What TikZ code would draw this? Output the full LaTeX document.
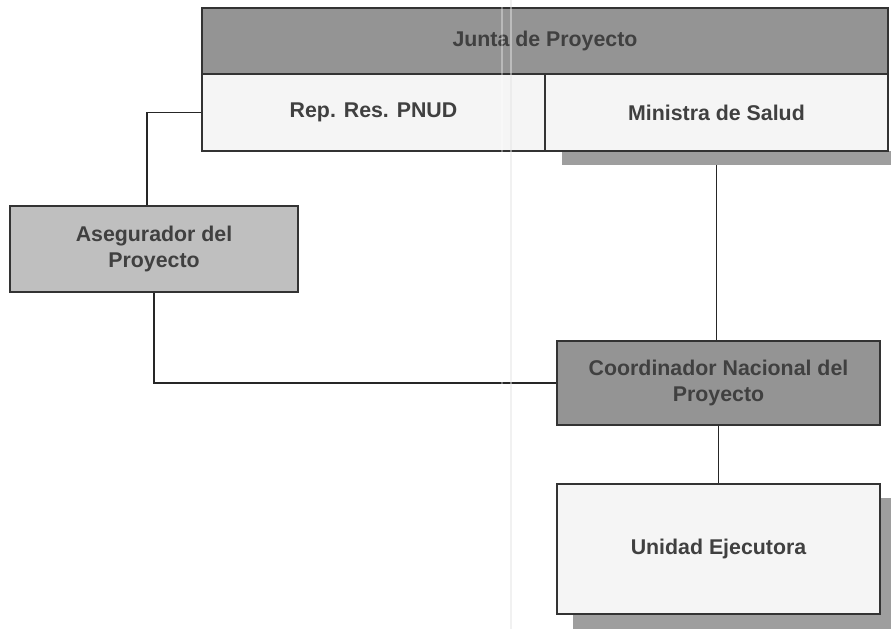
\documentclass[tikz,border=0pt]{standalone}
\usepackage{fontspec}
\setmainfont{Liberation Sans}
\begin{document}
\begin{tikzpicture}[x=0.75pt, y=-0.75pt]
\tikzset{
  box/.style={draw=black!80, line width=1.2pt, inner sep=0pt, align=center, text=black!75, font=\fontsize{16}{19.5}\selectfont\bfseries},
  darkbox/.style={box, fill=black!42},
  midbox/.style={box, fill=black!25},
  lightbox/.style={box, fill=black!4},
  shade/.style={fill=black!38},
  link/.style={draw=black!85, line width=1.1pt}
}
% page
\useasboundingbox (0,0) rectangle (891,629);
\fill[white] (0,0) rectangle (891,629);

% shadows
\fill[shade] (562,151) rectangle (891,165);
\fill[shade] (573,498) rectangle (891,629);

% boxes
\node[darkbox, minimum width=686*0.75pt, minimum height=66*0.75pt] (junta) at (545,41) {Junta de Proyecto};
\node[lightbox, minimum width=343*0.75pt, minimum height=77*0.75pt] (pnud) at (373.5,112.5) {Rep. Res. PNUD};
\node[lightbox, minimum width=343*0.75pt, minimum height=77*0.75pt] (salud) at (716.5,112.5) {Ministra de Salud};
\node[midbox, minimum width=288*0.75pt, minimum height=86*0.75pt] (aseg) at (154,249) {Asegurador del\\Proyecto};
\node[darkbox, minimum width=323*0.75pt, minimum height=84*0.75pt] (coord) at (718.5,383) {Coordinador Nacional del\\Proyecto};
\node[lightbox, minimum width=323*0.75pt, minimum height=130*0.75pt] (unidad) at (718.5,549) {Unidad Ejecutora};

% connectors
\coordinate (bend) at (147,112.5);
\coordinate (saludfoot) at (716.5,165);
\draw[link] (pnud.west) -- (bend) -- (bend |- aseg.north);
\draw[link] (aseg.south) |- (coord.west);
\draw[link] (saludfoot) -- (saludfoot |- coord.north);
\draw[link] (coord.south) -- (coord.south |- unidad.north);

% scan fold
\draw[white, opacity=0.35, line width=1.5pt] (502,0) -- (502,629);
\draw[black!10, opacity=0.5, line width=1.5pt] (511,0) -- (511,629);
\end{tikzpicture}
\end{document}
